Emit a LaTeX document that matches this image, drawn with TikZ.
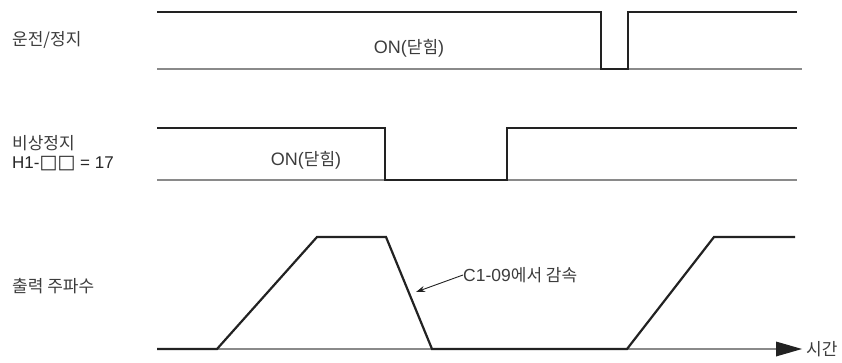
\documentclass[tikz,border=0pt]{standalone}
\usepackage{fontspec}
\setmainfont{Liberation Sans}
\newfontfamily\kr{Noto Sans CJK KR}
\newfontfamily\djv{DejaVu Sans}
\usetikzlibrary{arrows.meta}
\definecolor{sig}{HTML}{222222}
\definecolor{base}{HTML}{8A8A8A}
\definecolor{txt}{HTML}{3C3C3C}
\tikzset{
  signal/.style={draw=sig, line width=2.2pt, line join=miter},
  baseline/.style={draw=base, line width=1.6pt},
  lbl/.style={inner sep=0pt, anchor=west, font=\kr\fontsize{17}{19}\selectfont, text=txt},
  ontext/.style={inner sep=0pt, font=\fontsize{18}{20}\selectfont, text=txt},
}
\begin{document}
\begin{tikzpicture}[x=1pt,y=-1pt]
\useasboundingbox (0,0) rectangle (842,363);
% baselines
\draw[baseline] (157,69) -- (802,69);
\draw[baseline] (157,180) -- (797,180);
\draw[baseline] (157,349) -- (780,349);
\fill[sig] (776,341.5) -- (802,349) -- (776,356.5) -- cycle;
% signals
\draw[signal] (157,12) -- (601,12) -- (601,69) -- (628,69) -- (628,12) -- (797,12);
\draw[signal] (157,128) -- (385,128) -- (385,180) -- (507,180) -- (507,128) -- (797,128);
\draw[signal] (157,349) -- (217,349) -- (317,237) -- (386,237) -- (432,349) -- (627,349) -- (714,237) -- (795,237);
% labels
\node[lbl] (l1) at (12,40) {운전/정지};
\node[lbl] (l2) at (12,143) {비상정지};
\node[inner sep=0pt, anchor=west, font=\fontsize{17}{19}\selectfont, text=black!85] (l3) at (12,164) {H1-{\djv\bfseries\fontsize{19}{19}\selectfont□□} = 17};
\node[lbl] (l4) at (12,286) {출력 주파수};
\node[ontext] (on1) at (409,48) {ON({\kr\fontsize{17}{19}\selectfont 닫힘})};
\node[ontext] (on2) at (306,160) {ON({\kr\fontsize{17}{19}\selectfont 닫힘})};
\node[ontext, anchor=west, font=\fontsize{17.5}{20}\selectfont] (dec) at (463,275) {C1-09{\kr\fontsize{17}{19}\selectfont 에서 감속}};
\node[lbl] (t) at (806,349) {시간};
\coordinate (ramp) at (416,292);
\draw[sig, line width=0.9pt, -{Stealth[length=9pt,width=6pt]}] (dec.west) -- (ramp);
\end{tikzpicture}
\end{document}
